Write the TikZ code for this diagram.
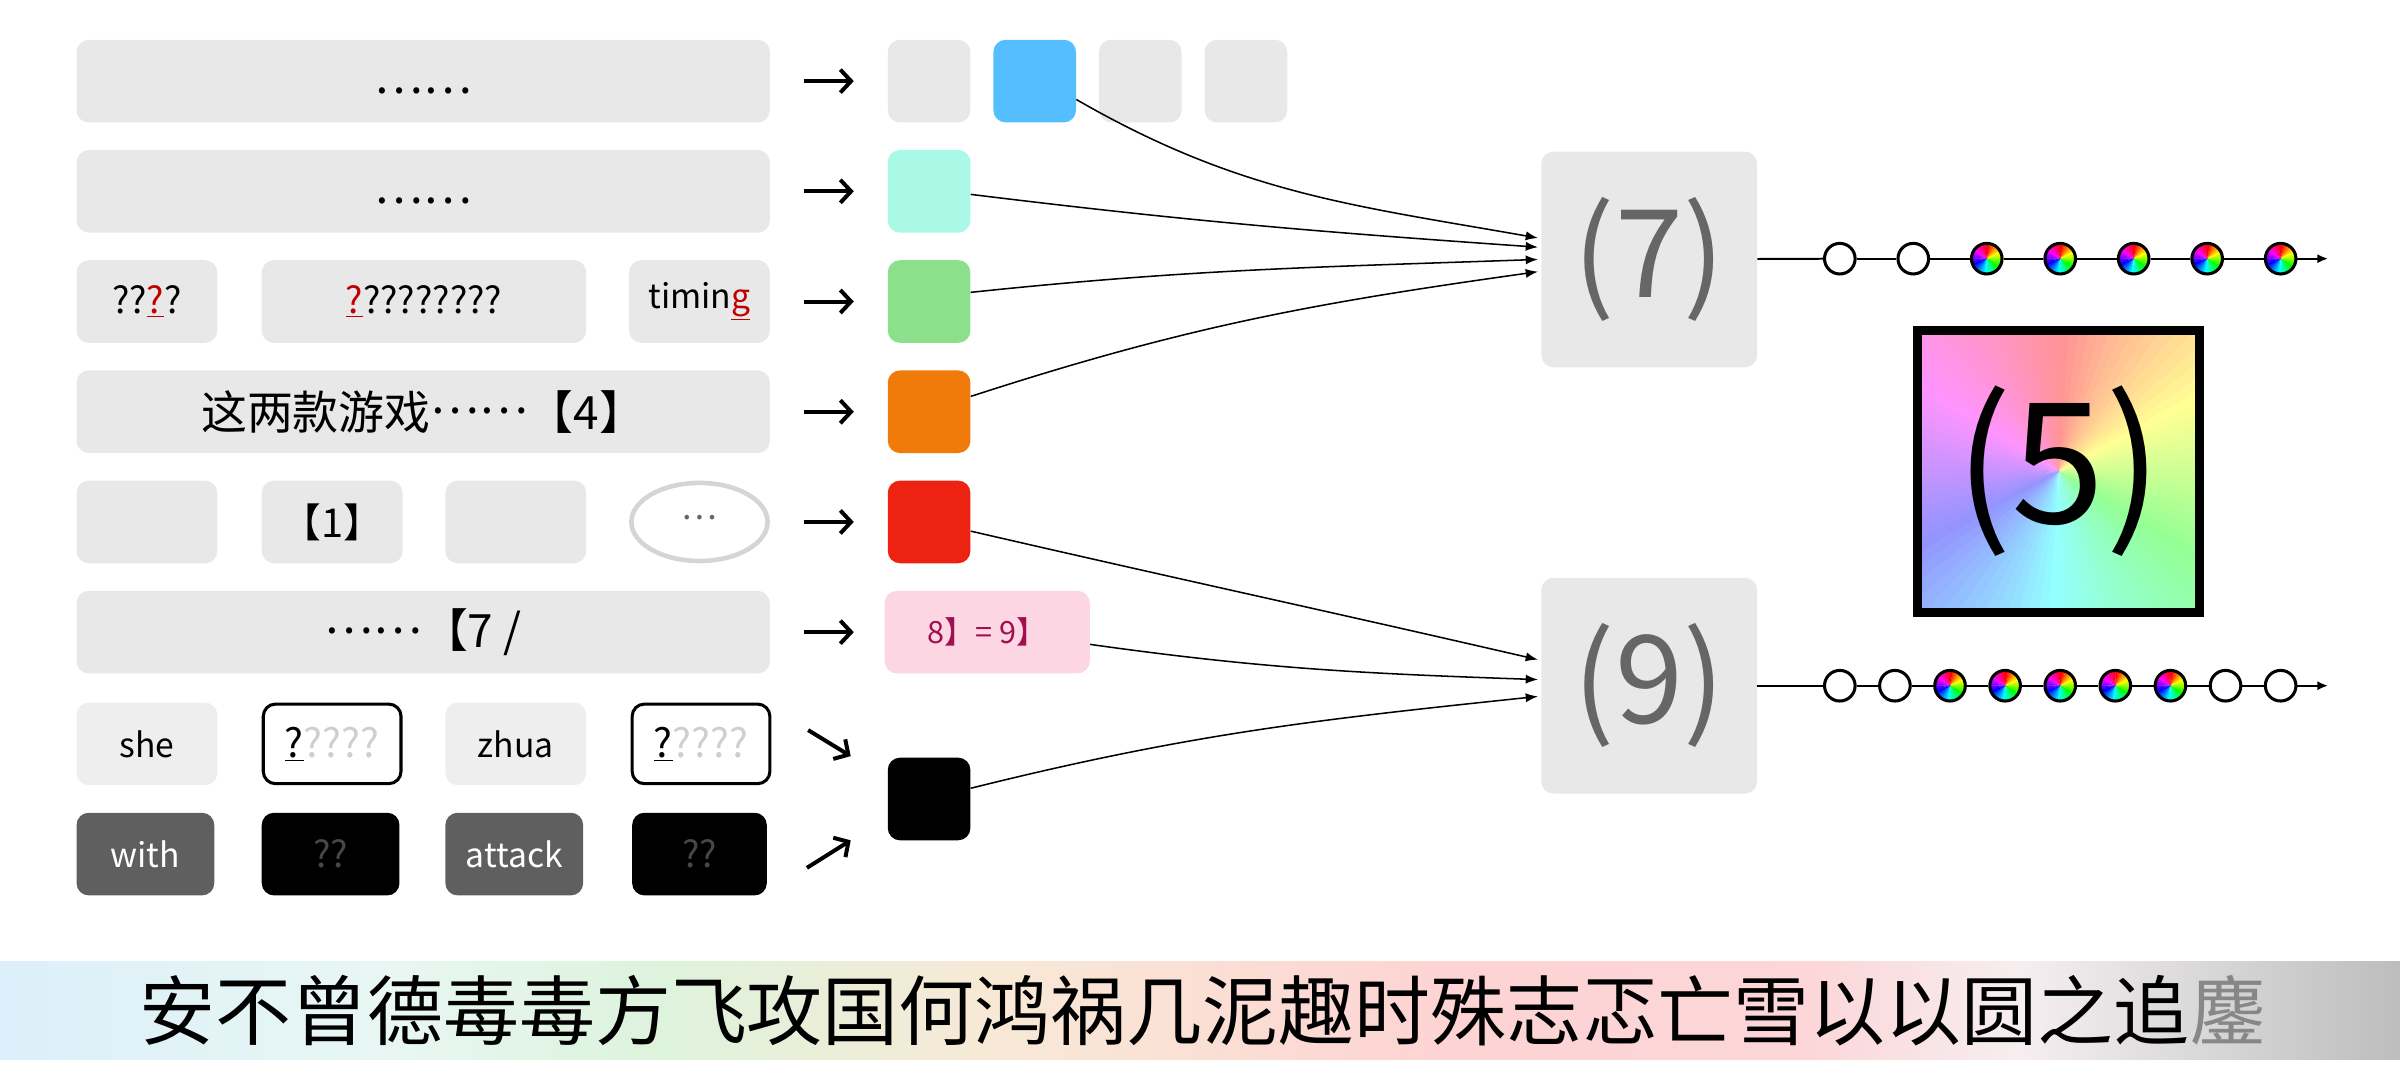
\documentclass[tikz,border=0pt]{standalone}
\usepackage{fontspec}
\setmainfont{Noto Sans CJK SC}
\usepackage{xcolor}
\usetikzlibrary{positioning,arrows.meta,shapes.geometric}

\definecolor{boxgray}{HTML}{E8E8E8}
\definecolor{softgray}{HTML}{EEEEEE}
\definecolor{darkbox}{HTML}{5F5F5F}
\definecolor{qdim}{HTML}{474747}
\definecolor{qlight}{HTML}{CFCFCF}
\definecolor{qred}{HTML}{C00000}
\definecolor{proctext}{HTML}{666666}
\definecolor{skyblue}{HTML}{55BEFF}
\definecolor{mint}{HTML}{AAF8E6}
\definecolor{leaf}{HTML}{8CDF8B}
\definecolor{amber}{HTML}{F07A0A}
\definecolor{signal}{HTML}{EE2211}
\definecolor{blush}{HTML}{FDD6E3}
\definecolor{plum}{HTML}{9E1050}
\definecolor{ringgray}{HTML}{D5D5D5}
\definecolor{bandA}{HTML}{DCEFFA}
\definecolor{bandB}{HTML}{E8F7F3}
\definecolor{bandC}{HTML}{DDF3DC}
\definecolor{bandD}{HTML}{F8E9D6}
\definecolor{bandE}{HTML}{FDD3D3}
\definecolor{bandF}{HTML}{FCD6D8}
\definecolor{bandG}{HTML}{F6EEF0}
\definecolor{bandH}{HTML}{D4D4D4}
\definecolor{bandI}{HTML}{BDBDBD}
\definecolor{blurgray}{HTML}{6E6E6E}

\begin{document}
\begin{tikzpicture}[x=1pt,y=1pt,
    cell/.style={rectangle,rounded corners=8pt,fill=boxgray,inner sep=0pt,
                 minimum width=92pt,minimum height=54pt,font=\fontsize{22}{26}\selectfont},
    wide/.style={cell,minimum width=453pt,font=\fontsize{30}{34}\selectfont},
    sq/.style={cell,minimum width=54pt},
    qbox/.style={cell,fill=white,draw=black,line width=2pt,minimum width=90pt,
                 minimum height=52pt,font=\fontsize{26}{30}\selectfont},
    darkcell/.style={cell,fill=darkbox,text=white},
    blkcell/.style={cell,fill=black,text=qdim,font=\fontsize{24}{28}\selectfont},
    proc/.style={cell,minimum width=141pt,minimum height=141pt,text=proctext,
                 font=\fontsize{80}{90}\selectfont},
    fat/.style={line width=2.6pt,-{Straight Barb[length=7pt,width=15pt]}},
    link/.style={line width=1pt,-{Latex[length=8pt,width=6pt]}},
    wire/.style={line width=1.3pt},
    dotw/.style={circle,draw=black,fill=white,line width=2pt,minimum size=20pt,inner sep=0pt},
    dotc/.style={dotw,path picture={
        \foreach \a in {0,10,...,350}{
          \definecolor{hc}{Hsb}{\a,1,1}
          \fill[hc] (path picture bounding box.center) -- ++(90-\a:14pt)
            arc[start angle=90-\a,end angle=78-\a,radius=14pt] -- cycle;}}},
  ]
  \useasboundingbox (0,0) rectangle (1568,-705.6);

  % left column
  \node[wide,name=r1] at (276.5,-53) {\raisebox{-8pt}[0pt][0pt]{……}};
  \node[wide,name=r2] at (276.5,-125) {\raisebox{-8pt}[0pt][0pt]{……}};

  \node[cell,name=r3a,font=\fontsize{24}{28}\selectfont] at (96,-197) {??{\color{qred}\underline{?}}?};
  \node[cell,name=r3b,minimum width=212pt,font=\fontsize{24}{28}\selectfont,
        right of=r3a,node distance=181pt] {{\color{qred}\underline{?}}????????};
  \node[cell,name=r3c,right of=r3b,node distance=180pt] {timin{\color{qred}\underline{g}}};

  \node[wide,name=r4] at (276.5,-269) {这两款游戏\raisebox{10pt}{……}【4】};

  \node[cell,name=r5a] at (96,-341) {};
  \node[cell,name=r5b,right of=r5a,node distance=121pt,font=\fontsize{26}{30}\selectfont] {【1】};
  \node[cell,name=r5c,right of=r5b,node distance=120pt] {};
  \node[ellipse,draw=ringgray,line width=3pt,fill=white,minimum width=89pt,minimum height=51pt,
        inner sep=0pt,text=proctext,font=\fontsize{22}{24}\selectfont,
        name=r5d,right of=r5c,node distance=120pt] {\raisebox{6pt}{…}};

  \node[wide,name=r6] at (276.5,-413) {\raisebox{9pt}{……}【7 /};

  \node[cell,fill=softgray,name=r7a] at (96,-486) {she};
  \node[qbox,name=r7b,right of=r7a,node distance=121pt] {\underline{?}{\color{qlight}????}};
  \node[cell,fill=softgray,name=r7c,right of=r7b,node distance=120pt] {zhua};
  \node[qbox,name=r7d,right of=r7c,node distance=121pt] {\underline{?}{\color{qlight}????}};

  \node[darkcell,name=r8a,minimum width=90pt] at (95,-558) {with};
  \node[blkcell,name=r8b,minimum width=90pt,right of=r8a,node distance=121pt] {??};
  \node[darkcell,name=r8c,minimum width=90pt,right of=r8b,node distance=120pt] {attack};
  \node[blkcell,name=r8d,minimum width=88pt,right of=r8c,node distance=121pt] {??};

  % middle column
  \node[sq,name=s1a] at (607,-53) {};
  \node[sq,fill=skyblue,name=s1b,right of=s1a,node distance=69pt] {};
  \node[sq,name=s1c,right of=s1b,node distance=69pt] {};
  \node[sq,name=s1d,right of=s1c,node distance=69pt] {};
  \node[sq,fill=mint,name=s2] at (607,-125) {};
  \node[sq,fill=leaf,name=s3] at (607,-197) {};
  \node[sq,fill=amber,name=s4] at (607,-269) {};
  \node[sq,fill=signal,name=s5] at (607,-341) {};
  \node[cell,fill=blush,minimum width=134pt,text=plum,font=\fontsize{20}{24}\selectfont,
        name=s6] at (645,-413) {8】= 9】};
  \node[sq,fill=black,name=s7] at (607,-522) {};

  \draw[fat,shorten <=22pt,shorten >=22pt] (r1) -- (s1a);
  \draw[fat,shorten <=22pt,shorten >=22pt] (r2) -- (s2);
  \draw[fat,shorten <=22pt,shorten >=22pt] (r3c) -- (s3);
  \draw[fat,shorten <=22pt,shorten >=22pt] (r4) -- (s4);
  \draw[fat,shorten <=22pt,shorten >=22pt] (r5d) -- (s5);
  \draw[fat,shorten <=22pt,shorten >=20pt] (r6) -- (s6);
  \draw[fat] ([shift={(24pt,9pt)}]r7d.east) -- ([shift={(-24pt,28pt)}]s7.west);
  \draw[fat] ([shift={(26pt,-9pt)}]r8d.east) -- ([shift={(-24pt,-27pt)}]s7.west);

  % right side
  \node[proc,name=b7] at (1077.5,-169.5) {(7)};
  \node[proc,name=b9] at (1077.5,-448) {(9)};

  \draw[link] ([yshift=-12pt]s1b.east) to[out=-30,in=170] ([shift={(-2pt,14pt)}]b7.west);
  \draw[link] ([yshift=-2pt]s2.east) to[out=-7,in=176] ([shift={(-2pt,8pt)}]b7.west);
  \draw[link] ([yshift=6pt]s3.east) to[out=6,in=-178] ([shift={(-2pt,0pt)}]b7.west);
  \draw[link] ([yshift=10pt]s4.east) to[out=18,in=-172] ([shift={(-2pt,-8pt)}]b7.west);
  \draw[link] ([yshift=-6pt]s5.east) to[out=-13,in=167] ([shift={(-2pt,17pt)}]b9.west);
  \draw[link] ([yshift=-8pt]s6.east) to[out=-8,in=178] ([shift={(-2pt,4pt)}]b9.west);
  \draw[link] ([yshift=7pt]s7.east) to[out=14,in=-174] ([shift={(-2pt,-7pt)}]b9.west);

  \node[rectangle,draw=black,line width=6pt,minimum size=184pt,inner sep=0pt,
        font=\fontsize{110}{115}\selectfont,name=b5,
        path picture={
          \foreach \a in {0,4,...,356}{
            \definecolor{hc}{Hsb}{\a,0.42,1}
            \fill[hc] (path picture bounding box.center) -- ++(90-\a:140pt)
              arc[start angle=90-\a,end angle=85-\a,radius=140pt] -- cycle;}}]
        at (1345,-308) {(5)};

  % output chains
  \node[dotw,name=o1] at (1202,-169) {};
  \node[dotw,name=o2,right of=o1,node distance=48pt] {};
  \node[dotc,name=o3,right of=o2,node distance=48pt] {};
  \node[dotc,name=o4,right of=o3,node distance=48pt] {};
  \node[dotc,name=o5,right of=o4,node distance=48pt] {};
  \node[dotc,name=o6,right of=o5,node distance=48pt] {};
  \node[dotc,name=o7,right of=o6,node distance=48pt] {};
  \coordinate (e7) at (1521,-169);

  \node[dotw,name=p1] at (1202,-448) {};
  \node[dotw,name=p2,right of=p1,node distance=36pt] {};
  \node[dotc,name=p3,right of=p2,node distance=36pt] {};
  \node[dotc,name=p4,right of=p3,node distance=36pt] {};
  \node[dotc,name=p5,right of=p4,node distance=36pt] {};
  \node[dotc,name=p6,right of=p5,node distance=36pt] {};
  \node[dotc,name=p7,right of=p6,node distance=36pt] {};
  \node[dotw,name=p8,right of=p7,node distance=36pt] {};
  \node[dotw,name=p9,right of=p8,node distance=36pt] {};
  \coordinate (e9) at (1521,-448);

  \path[wire]
     (b7) edge (o1)
     (o1) edge (o2)
     (o2) edge (o3)
     (o3) edge (o4)
     (o4) edge (o5)
     (o5) edge (o6)
     (o6) edge (o7);
  \draw[wire,-{Latex[length=7pt,width=6pt]}] (o7) -- (e7);

  \path[wire]
     (b9) edge (p1)
     (p1) edge (p2)
     (p2) edge (p3)
     (p3) edge (p4)
     (p4) edge (p5)
     (p5) edge (p6)
     (p6) edge (p7)
     (p7) edge (p8)
     (p8) edge (p9);
  \draw[wire,-{Latex[length=7pt,width=6pt]}] (p9) -- (e9);

  % subtitle band
  \shade[left color=bandA,right color=bandB] (0,-628) rectangle (250.5,-692);
  \shade[left color=bandB,right color=bandC] (250,-628) rectangle (430.5,-692);
  \shade[left color=bandC,right color=bandD] (430,-628) rectangle (650.5,-692);
  \shade[left color=bandD,right color=bandE] (650,-628) rectangle (950.5,-692);
  \shade[left color=bandE,right color=bandF] (950,-628) rectangle (1180.5,-692);
  \shade[left color=bandF,right color=bandG] (1180,-628) rectangle (1320.5,-692);
  \shade[left color=bandG,right color=bandH] (1320,-628) rectangle (1460.5,-692);
  \shade[left color=bandH,right color=bandI] (1460,-628) rectangle (1568,-692);

  \node[inner sep=0pt,anchor=west,font=\fontsize{49.6}{52}\selectfont,name=sub] at (91,-660)
       {安不曾德毒毒方飞攻国何鸿祸几泥趣时殊志忑亡雪以以圆之追};
  \node[inner sep=0pt,font=\fontsize{49.6}{52}\selectfont,text=blurgray,opacity=0.75,
        name=tail,right=0pt of sub] {鏖};
\end{tikzpicture}
\end{document}
